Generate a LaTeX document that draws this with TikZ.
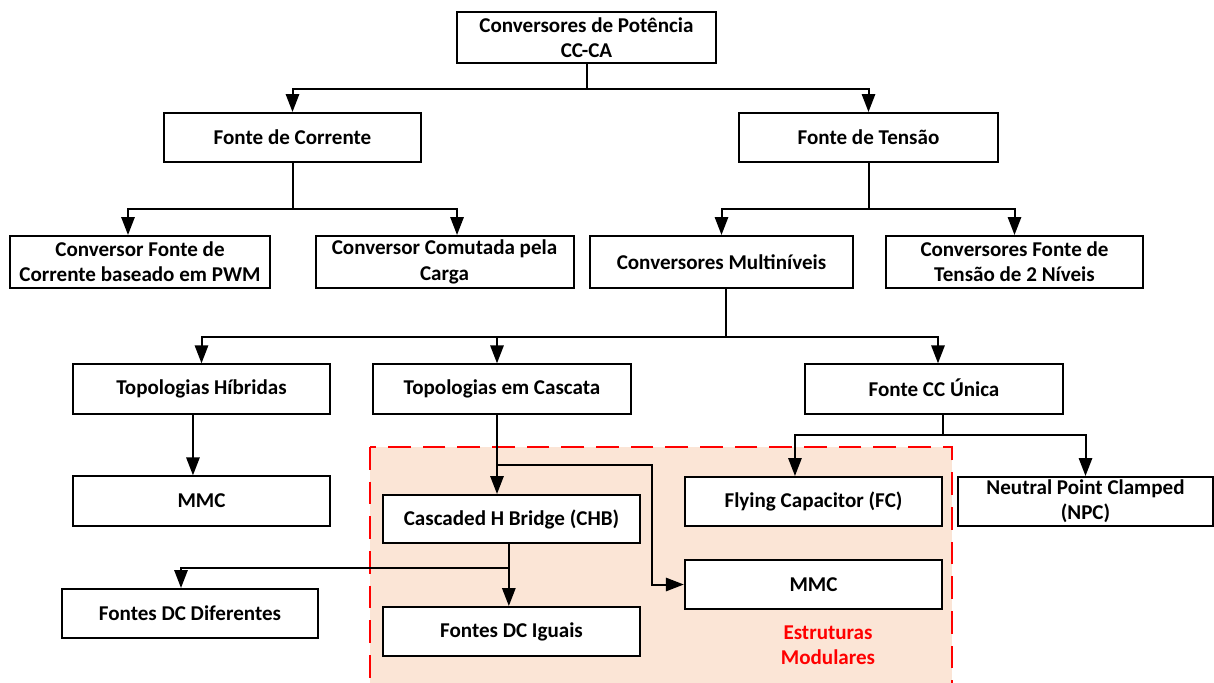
\documentclass[tikz,border=0pt]{standalone}
\usepackage{fontspec}
\setmainfont{Carlito}
\usetikzlibrary{arrows.meta}
\definecolor{peach}{RGB}{251,229,214}
\definecolor{modred}{RGB}{255,0,0}
\tikzset{
  box/.style={draw, line width=1.5pt, fill=white, align=center, inner sep=0pt,
    minimum width=193pt, minimum height=37pt,
    font=\fontsize{15.8}{19}\selectfont\bfseries},
  link/.style={line width=1.5pt, line join=miter},
  arr/.style={link, -{Triangle[width=10pt,length=13.5pt]}},
}
\begin{document}
\begin{tikzpicture}[x=0.75pt,y=-0.75pt]
\useasboundingbox (0,0) rectangle (1214,682);

% shaded area of the modular structures
\begin{scope}
  \clip (0,0) rectangle (1214,682);
  \draw[modred, fill=peach, line width=1.5pt, dash pattern=on 17pt off 9pt]
    (370,447) rectangle (952,700);
\end{scope}
\node[text=modred, align=center, font=\fontsize{15.8}{19}\selectfont\bfseries]
  (lab) at (828,645) {Estruturas\\Modulares};

% level 0
\node[box, minimum width=194.25pt, minimum height=38.25pt] (top) at (586.5,37.5) {Conversores de Potência\\CC-CA};
% level 1
\node[box, minimum height=36.75pt] (fc) at (292.5,137.5) {Fonte de Corrente};
\node[box, minimum width=194.25pt, minimum height=36.75pt] (ft) at (868.5,137.5) {Fonte de Tensão};
% level 2
\node[box, minimum width=195pt, minimum height=39pt] (cfc) at (140,262) {Conversor Fonte de\\Corrente baseado em PWM};
\node[box, minimum width=193.5pt, minimum height=39pt] (ccc) at (444.5,262) {Conversor Comutada pela\\Carga};
\node[box, minimum width=197.25pt, minimum height=39pt] (cm) at (721.5,262) {Conversores Multiníveis};
\node[box, minimum width=192.75pt, minimum height=39pt] (c2n) at (1014.5,262) {Conversores Fonte de\\Tensão de 2 Níveis};
% level 3
\node[box] (th) at (201.5,389) {Topologias Híbridas};
\node[box] (tc) at (502,389) {Topologias em Cascata};
\node[box] (fcu) at (934,389) {Fonte CC \smash{Ú}nica};
% level 4
\node[box] (mmca) at (201.5,501) {MMC};
\node[box, minimum height=36pt] (chb) at (511.5,519) {Cascaded H Bridge (CHB)};
\node[box, minimum height=36.75pt] (fcap) at (813.5,501.5) {Flying Capacitor (FC)};
\node[box, minimum width=191.25pt, minimum height=36.75pt] (npc) at (1085.5,501.5) {Neutral Point Clamped\\(NPC)};
\node[box, minimum height=36.75pt] (mmcb) at (813.5,584.5) {MMC};
% level 5
\node[box, minimum width=192pt, minimum height=36.75pt] (fdd) at (190,613.5) {Fontes DC Diferentes};
\node[box, minimum height=36.75pt] (fdi) at (511.5,631.5) {Fontes DC Iguais};

% connectors
\draw[arr] (top.south) -- ++(0,25) -| (fc.north);
\draw[arr] (top.south) -- ++(0,25) -| (ft.north);

\draw[arr] (fc.south) -- ++(0,46) -| ([xshift=-9pt]cfc.north);
\draw[arr] (fc.south) -- ++(0,46) -| ([xshift=9.4pt]ccc.north);

\draw[arr] (ft.south) -- ++(0,46) -| (cm.north);
\draw[arr] (ft.south) -- ++(0,46) -| (c2n.north);

\draw[arr] ([xshift=3.4pt]cm.south) -- ++(0,48) -| (th.north);
\draw[arr] ([xshift=3.4pt]cm.south) -- ++(0,48) -| ([xshift=-3.75pt]tc.north);
\draw[arr] ([xshift=3.4pt]cm.south) -- ++(0,48) -| ([xshift=3pt]fcu.north);

\draw[arr] ([xshift=-6.4pt]th.south) -- ([xshift=-6.4pt]mmca.north);

\draw[arr] ([xshift=-3.75pt]tc.south) -- ([xshift=-3.75pt]tc.south |- chb.north);
\coordinate (jc) at (497,465);
\coordinate (jd) at (652,465);
\draw[arr] (jc) -- (jd) |- (mmcb.west);

\draw[arr] ([xshift=6.75pt]fcu.south) -- ++(0,20) -| ([xshift=-13.9pt]fcap.north);
\draw[arr] ([xshift=6.75pt]fcu.south) -- ++(0,20) -| (npc.north);

\draw[arr] ([xshift=-2pt]chb.south) -- ++(0,24) -| ([xshift=-6.75pt]fdd.north);
\draw[arr] ([xshift=-2pt]chb.south) -- ([xshift=-2pt]chb.south |- fdi.north);
\end{tikzpicture}
\end{document}
